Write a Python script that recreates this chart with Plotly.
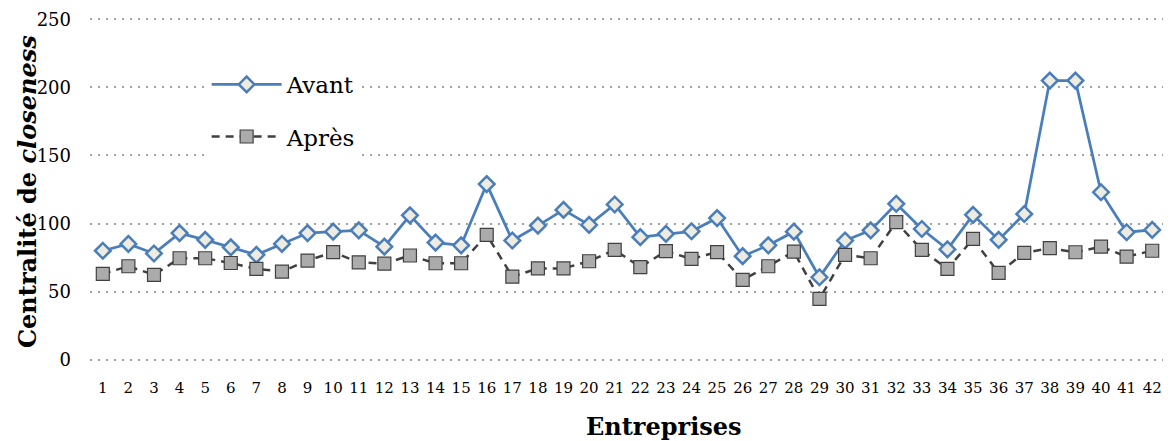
import plotly.graph_objects as go

categories = [str(i) for i in range(1, 43)]
avant = [80, 85, 78, 93, 88, 82.5, 77, 85, 93, 94, 95, 83, 106, 86, 84, 129, 87.5, 98.5, 110, 99,
         114, 90, 92.4, 94.3, 104, 76, 84, 94, 60.5, 87.5, 95, 114.5, 96, 81, 106.4, 88, 107, 205,
         205, 123, 93.6, 95.3]
apres = [63, 68.6, 62.3, 74.5, 74.5, 71, 66.7, 64.7, 72.8, 79, 71.5, 70.5, 76.5, 70.8, 70.8, 91.7,
         61, 67, 67, 72.3, 80.6, 68, 79.7, 74, 79, 58.6, 68.6, 79.4, 44.6, 77, 74.5, 101, 80.6, 66.7,
         88.7, 63.7, 78.4, 81.9, 78.9, 83, 75.7, 80]
y_ticks = [0, 50, 100, 150, 200, 250]

FONT = "DejaVu Serif"
BLUE = "#4A7EBB"

fig = go.Figure()
fig.add_trace(go.Scatter(
    x=categories, y=avant, name="Avant", mode="lines+markers",
    line=dict(color=BLUE, width=2.75),
    marker=dict(symbol="diamond", size=12, color="#EEECE1", line=dict(color=BLUE, width=2.5)),
    legend="legend",
))
fig.add_trace(go.Scatter(
    x=categories, y=apres, name="Après", mode="lines+markers",
    line=dict(color="#404040", width=2.5, dash="8px,6px"),
    marker=dict(symbol="square", size=13, color="#ABABAB", line=dict(color="#404040", width=1.2)),
    legend="legend2",
))

# plot area: x 82..1157 in the figure, y 10..353 (page offset 8px by body margin)
fig.update_layout(
    width=1163, height=433,
    margin=dict(l=82, r=6, t=10, b=80),
    paper_bgcolor="white", plot_bgcolor="white",
    font=dict(family=FONT, color="black"),
    showlegend=True,
    legend=dict(x=0.1085, y=0.869, xanchor="left", yanchor="top", bgcolor="white",
                font=dict(size=23, family=FONT), itemwidth=70),
    legend2=dict(x=0.1085, y=0.717, xanchor="left", yanchor="top", bgcolor="white",
                 font=dict(size=23, family=FONT), itemwidth=70),
    xaxis=dict(type="category", range=[-0.5, 41.5], showgrid=False, zeroline=False,
               showline=False, ticks="", tickfont=dict(size=15, family=FONT),
               ticklabelstandoff=16, automargin=False),
    yaxis=dict(range=[-1, 251], tickvals=y_ticks, showgrid=True, gridcolor="#A0A0A0",
               gridwidth=1.5, griddash="2px,6px", zeroline=False, showline=False, ticks="",
               tickfont=dict(size=18, family=FONT), ticklabelstandoff=18, automargin=False),
    shapes=[dict(type="rect", xref="paper", yref="paper", layer="below",
                 x0=(190 - 90) / 1075, x1=(378 - 90) / 1075,
                 y0=(361 - 162) / 343, y1=(361 - 66) / 343,
                 fillcolor="white", line=dict(width=0))],
    annotations=[
        dict(text="<b>Entreprises</b>", xref="paper", yref="paper",
             x=0.534, y=(361 - 426) / 343, xanchor="center", yanchor="middle",
             showarrow=False, font=dict(size=24, family=FONT)),
        dict(text="<b>Centralité de <i>closeness</i></b>", xref="paper", yref="paper",
             x=(27 - 90) / 1075, y=(361 - 192) / 343, xanchor="center", yanchor="middle",
             textangle=-90, showarrow=False, font=dict(size=24, family=FONT)),
    ],
)

fig.write_html("out.html")
